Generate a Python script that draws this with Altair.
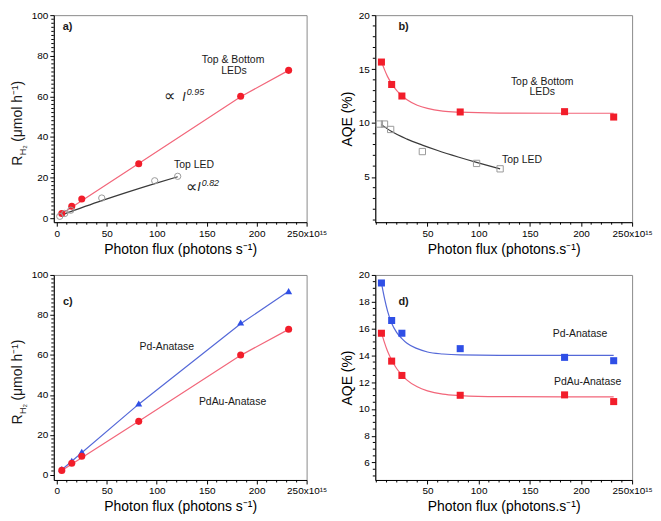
import altair as alt
import pandas as pd

FONT = "Liberation Sans"
RED = "#f21d2a"
RED_LINE = "#f2667a"
BLUE = "#2f4fe6"
BLUE_LINE = "#5468d8"
GREY_MK = "#9a9a9a"
GREY_LINE = "#3a3a3a"
INK = "#1a1a1a"

# ---------------- data ----------------
flux = [5, 15, 25, 82, 184, 232]
flux_top = [3, 8, 14, 45, 98, 121]

rate_both = [2.3, 5.9, 9.4, 26.8, 60.0, 72.8]      # Top & Bottom LEDs / PdAu-Anatase
rate_top = [0.9, 2.3, 3.9, 9.9, 18.4, 20.6]        # Top LED
rate_pd = [3.0, 7.1, 11.6, 35.7, 76.2, 91.9]       # Pd-Anatase

aqe_both = [15.65, 13.57, 12.5, 11.02, 11.05, 10.55]
aqe_top = [9.9, 9.9, 9.4, 7.35, 6.25, 5.75]
aqe_pd = [19.4, 16.6, 15.65, 14.5, 13.85, 13.6]

# fitted curves
fit_rate_x = [5, 82, 184, 232]
fit_rate_both = [2.2, 26.9, 59.8, 72.8]
fit_rate_pd = [2.6, 35.4, 75.6, 91.8]
fit_top_x = [5, 45, 98, 121]
fit_rate_top = [1.6, 8.6, 17.0, 20.4]

fit_aqe_x = [5, 8, 11, 15, 20, 25, 30, 40, 50, 65, 82, 120, 184, 232]
fit_aqe_both = [15.7, 14.95, 14.3, 13.65, 13.0, 12.55, 12.15, 11.65, 11.35, 11.1, 11.0, 10.92, 10.9, 10.9]
fit_aqe_pd = [19.4, 18.25, 17.3, 16.4, 15.7, 15.25, 14.9, 14.5, 14.25, 14.1, 14.03, 14.0, 14.0, 14.0]
fit_aqe_top_x = [5, 15, 30, 45, 60, 80, 98, 121]
fit_aqe_top = [9.85, 9.2, 8.5, 7.95, 7.45, 6.85, 6.35, 5.75]

# axis ticks
x_major_ac = [0, 50, 100, 150, 200, 250]
x_major_bd = [50, 100, 150, 200, 250]
x_minor = [v for v in range(0, 250, 10) if v % 50 != 0]
x_minor_bd = [0] + x_minor
y_major_rate = [0, 20, 40, 60, 80, 100]
y_minor_rate = [v for v in range(2, 100, 2) if v % 20 != 0]
y_major_b = [5, 10, 15, 20]
y_minor_b = [v for v in range(1, 20) if v % 5 != 0]
y_major_d = [6, 8, 10, 12, 14, 16, 18, 20]
y_minor_d = [v / 2 for v in range(10, 40) if v % 4 != 0]

XT_AC = "Photon flux (photons s⁻¹)"
XT_BD = "Photon flux (photons.s⁻¹)"
LBL250 = "datum.value == 250 ? '250x10¹⁵' : datum.label"


def df(xs, ys):
    return pd.DataFrame({"x": xs, "y": ys})


def txt(s, px, py, size=10.5, **kw):
    props = dict(fontSize=size, font=FONT, color=INK)
    props.update(kw)
    return alt.Chart(pd.DataFrame({"t": [s]})).mark_text(**props).encode(
        x=alt.value(px), y=alt.value(py), text="t:N"
    )


def panel(W, H, xdom, ydom, xmaj, xmin, ymaj, ymin, xtitle, ytitle,
          lines, points, texts):
    xs = alt.Scale(domain=xdom, nice=False, zero=False)
    ys = alt.Scale(domain=ydom, nice=False, zero=False)
    layers = []
    # minor ticks drawn through the scales
    layers.append(
        alt.Chart(pd.DataFrame({"v": xmin})).mark_rule(color="black", strokeWidth=1).encode(
            x=alt.X("v:Q", scale=xs, axis=None), y=alt.value(H), y2=alt.value(H + 2.5))
    )
    layers.append(
        alt.Chart(pd.DataFrame({"v": ymin})).mark_rule(color="black", strokeWidth=1).encode(
            y=alt.Y("v:Q", scale=ys, axis=None), x=alt.value(0), x2=alt.value(-2.5))
    )
    for d, color, interp in lines:
        layers.append(alt.Chart(d).mark_line(color=color, strokeWidth=1.2, interpolate=interp)
                      .encode(x=alt.X("x:Q", scale=xs, axis=None),
                              y=alt.Y("y:Q", scale=ys, axis=None)))
    for i, (d, shape, filled, color, size) in enumerate(points):
        if i == 0:
            xe = alt.X("x:Q", scale=xs, axis=alt.Axis(values=xmaj, title=xtitle, labelExpr=LBL250,
                                                       orient="bottom"))
            ye = alt.Y("y:Q", scale=ys, axis=alt.Axis(values=ymaj, title=ytitle, orient="left"))
        else:
            xe = alt.X("x:Q", scale=xs, axis=None)
            ye = alt.Y("y:Q", scale=ys, axis=None)
        if filled:
            mk = alt.Chart(d).mark_point(shape=shape, filled=True, color=color, size=size, opacity=1)
        else:
            mk = alt.Chart(d).mark_point(shape=shape, filled=False, color=color, size=size,
                                         strokeWidth=1, opacity=1)
        layers.append(mk.encode(x=xe, y=ye))
    layers.extend(texts)
    return alt.layer(*layers).resolve_axis(x="independent", y="independent").properties(
        width=W, height=H)


def rh2_title(H):
    y0 = 0.53 * H + 41
    return [
        txt("R", -36, y0, 14, angle=270, align="left", baseline="middle"),
        txt("H₂", -31, y0 - 10.5, 9, angle=270, align="left", baseline="middle"),
        txt("(μmol h⁻¹)", -36, y0 - 24, 14, angle=270, align="left", baseline="middle"),
    ]


# ---------------- panel a ----------------
Wa, Ha = 254, 208
pa = panel(
    Wa, Ha, [-3, 250], [-2, 100], x_major_ac, x_minor, y_major_rate, y_minor_rate, XT_AC, None,
    lines=[(df(fit_rate_x, fit_rate_both), RED_LINE, "linear"),
           (df(fit_top_x, fit_rate_top), GREY_LINE, "monotone")],
    points=[(df(flux, rate_both), "circle", True, RED, 50),
            (df(flux_top, rate_top), "circle", False, GREY_MK, 40)],
    texts=[
        txt("a)", 0.035 * Wa, 0.057 * Ha, 11, fontWeight="bold", align="left"),
        txt("Top & Bottom", 0.709 * Wa, 0.219 * Ha, align="center"),
        txt("LEDs", 0.713 * Wa, 0.271 * Ha, align="center"),
        txt("∝", 0.457 * Wa, 0.39 * Ha, 16, align="center"),
        txt("I", 0.508 * Wa, 0.395 * Ha, 12.5, fontStyle="italic", align="left"),
        txt("0.95", 0.526 * Wa, 0.37 * Ha, 9, fontStyle="italic", align="left"),
        txt("Top LED", 0.555 * Wa, 0.724 * Ha, align="center"),
        txt("∝", 0.543 * Wa, 0.829 * Ha, 16, align="center"),
        txt("I", 0.567 * Wa, 0.829 * Ha, 12.5, fontStyle="italic", align="left"),
        txt("0.82", 0.585 * Wa, 0.81 * Ha, 9, fontStyle="italic", align="left"),
    ] + rh2_title(Ha),
)

# ---------------- panel b ----------------
Wb, Hb = 258, 208
pb = panel(
    Wb, Hb, [-1, 250], [0.8, 20], x_major_bd, x_minor_bd, y_major_b, y_minor_b, XT_BD, "AQE (%)",
    lines=[(df(fit_aqe_x, fit_aqe_both), RED_LINE, "monotone"),
           (df(fit_aqe_top_x, fit_aqe_top), GREY_LINE, "monotone")],
    points=[(df(flux, aqe_both), "square", True, RED, 50),
            (df(flux_top, aqe_top), "square", False, GREY_MK, 40)],
    texts=[
        txt("b)", 0.09 * Wb, 0.058 * Hb, 11, fontWeight="bold", align="left"),
        txt("Top & Bottom", 0.65 * Wb, 0.324 * Hb, align="center"),
        txt("LEDs", 0.65 * Wb, 0.372 * Hb, align="center"),
        txt("Top LED", 0.571 * Wb, 0.70 * Hb, align="center"),
    ],
)

# ---------------- panel c ----------------
Wc, Hc = 254, 206
pc = panel(
    Wc, Hc, [-3, 250], [-2.5, 100], x_major_ac, x_minor, y_major_rate, y_minor_rate, XT_AC, None,
    lines=[(df(fit_rate_x, fit_rate_pd), BLUE_LINE, "linear"),
           (df(fit_rate_x, fit_rate_both), RED_LINE, "linear")],
    points=[(df(flux, rate_pd), "triangle-up", True, BLUE, 50),
            (df(flux, rate_both), "circle", True, RED, 50)],
    texts=[
        txt("c)", 0.036 * Wc, 0.13 * Hc, 11, fontWeight="bold", align="left"),
        txt("Pd-Anatase", 0.447 * Wc, 0.353 * Hc, align="center"),
        txt("PdAu-Anatase", 0.707 * Wc, 0.618 * Hc, align="center"),
    ] + rh2_title(Hc),
)

# ---------------- panel d ----------------
Wd, Hd = 258, 206
pd_ = panel(
    Wd, Hd, [-1, 250], [4.7, 20], x_major_bd, x_minor_bd, y_major_d, y_minor_d, XT_BD, "AQE (%)",
    lines=[(df(fit_aqe_x, fit_aqe_pd), BLUE_LINE, "monotone"),
           (df(fit_aqe_x, fit_aqe_both), RED_LINE, "monotone")],
    points=[(df(flux, aqe_pd), "square", True, BLUE, 50),
            (df(flux, aqe_both), "square", True, RED, 50)],
    texts=[
        txt("d)", 0.09 * Wd, 0.13 * Hd, 11, fontWeight="bold", align="left"),
        txt("Pd-Anatase", 0.797 * Wd, 0.29 * Hd, align="center"),
        txt("PdAu-Anatase", 0.827 * Wd, 0.522 * Hd, align="center"),
    ],
)

chart = alt.concat(pa, pb, pc, pd_, columns=2, spacing={"row": 12, "column": 12}, align="each")
chart = chart.properties(
    padding={"left": 2, "top": 0, "right": 0, "bottom": 0},
    background="white",
).configure_view(
    stroke="#8a8a8a", strokeWidth=1
).configure_axis(
    grid=False, labelFont=FONT, titleFont=FONT, labelFontSize=10, titleFontSize=14,
    titleFontWeight="normal", domainColor="black", tickColor="black", labelColor="black",
    titleColor="black", tickSize=4, labelPadding=2, titlePadding=4, labelFlush=False,
    labelOverlap=False, domainWidth=1, tickWidth=1
)

chart.save("out.html", embed_options={"renderer": "svg", "actions": False})
